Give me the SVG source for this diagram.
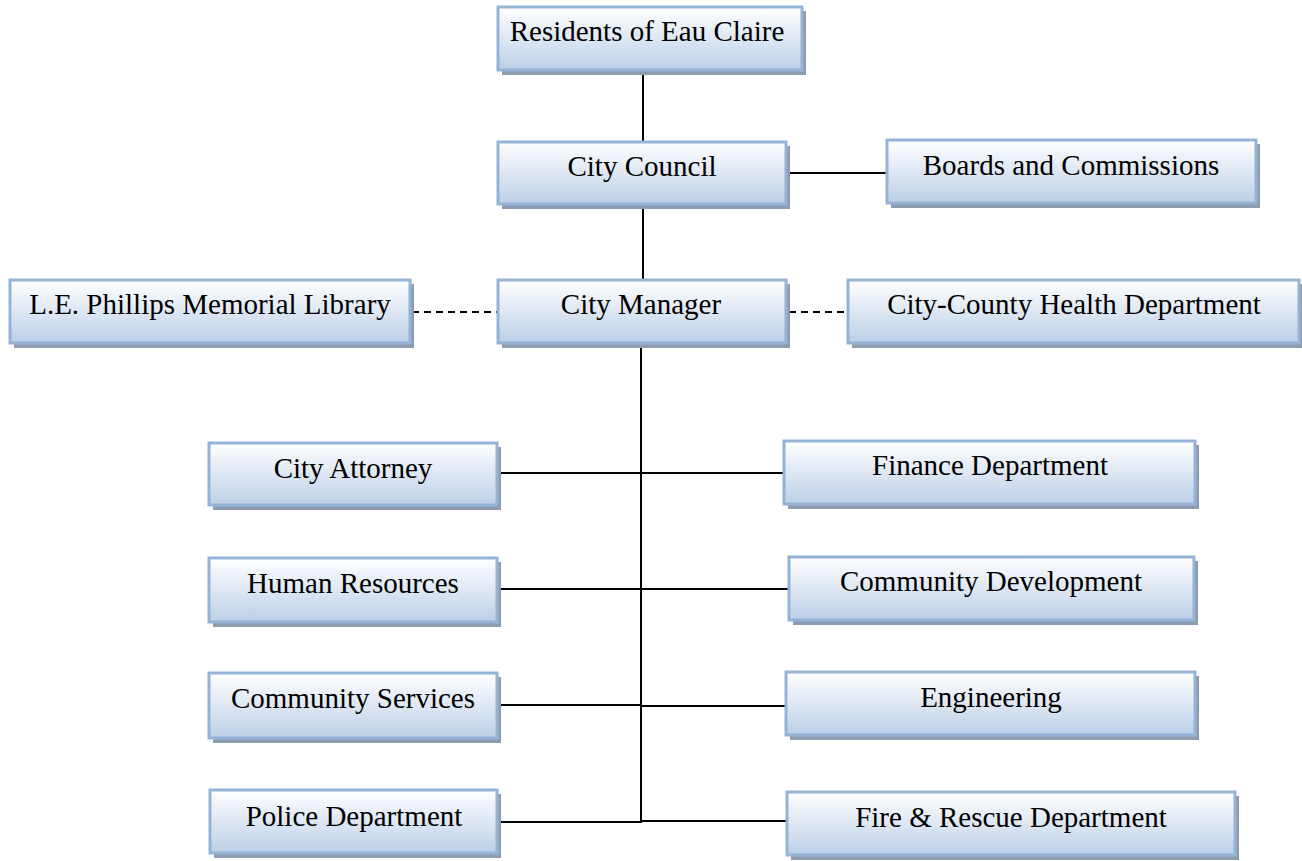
<svg xmlns="http://www.w3.org/2000/svg" width="1302" height="861" viewBox="0 0 1302 861">
<defs>
<linearGradient id="g" x1="0" y1="0" x2="0" y2="1">
<stop offset="0" stop-color="#ffffff"/>
<stop offset="1" stop-color="#bccfe7"/>
</linearGradient>
</defs>
<style>
.sh{fill:#8e9cb0}
.bx{fill:url(#g);stroke:#95b3d7;stroke-width:3}
.t{font-family:"Liberation Serif","Times New Roman",serif;font-size:29px;fill:#000;text-anchor:middle}
.ln{stroke:#000;stroke-width:2;fill:none}
.ds{stroke:#000;stroke-width:2;fill:none;stroke-dasharray:7 5}
</style>
<rect width="1302" height="861" fill="#fff"/>
<g id="connectors">
<line class="ln" x1="643" y1="70" x2="643" y2="142"/>
<line class="ln" x1="786" y1="173" x2="887" y2="173"/>
<line class="ln" x1="643" y1="204" x2="643" y2="280"/>
<line class="ds" x1="412" y1="312" x2="498" y2="312"/>
<line class="ds" x1="789" y1="312" x2="848" y2="312"/>
<line class="ln" x1="641" y1="343" x2="641" y2="823"/>
<line class="ln" x1="497" y1="473" x2="784" y2="473"/>
<line class="ln" x1="497" y1="589" x2="789" y2="589"/>
<line class="ln" x1="497" y1="705" x2="641" y2="705"/>
<line class="ln" x1="641" y1="706" x2="786" y2="706"/>
<line class="ln" x1="497" y1="822" x2="642" y2="822"/>
<line class="ln" x1="641" y1="821" x2="787" y2="821"/>
</g>
<g id="residents"><rect class="sh" x="502" y="11" width="304" height="64"/><rect class="bx" x="498" y="7" width="304" height="63"/><text class="t" x="647" y="41">Residents of Eau Claire</text></g>
<g id="council"><rect class="sh" x="502" y="146" width="288" height="63"/><rect class="bx" x="498" y="142" width="288" height="62"/><text class="t" x="642" y="176">City Council</text></g>
<g id="boards"><rect class="sh" x="891" y="144" width="369" height="64"/><rect class="bx" x="887" y="140" width="369" height="63"/><text class="t" x="1071" y="175">Boards and Commissions</text></g>
<g id="library"><rect class="sh" x="14" y="284" width="400" height="64"/><rect class="bx" x="10" y="280" width="400" height="63"/><text class="t" x="210" y="314">L.E. Phillips Memorial Library</text></g>
<g id="manager"><rect class="sh" x="502" y="284" width="288" height="64"/><rect class="bx" x="498" y="280" width="288" height="63"/><text class="t" x="641" y="314">City Manager</text></g>
<g id="health"><rect class="sh" x="852" y="284" width="450" height="64"/><rect class="bx" x="848" y="280" width="451" height="63"/><text class="t" x="1074" y="314">City-County Health Department</text></g>
<g id="attorney"><rect class="sh" x="213" y="447" width="288" height="63"/><rect class="bx" x="209" y="443" width="288" height="62"/><text class="t" x="353" y="478">City Attorney</text></g>
<g id="finance"><rect class="sh" x="788" y="445" width="411" height="64"/><rect class="bx" x="784" y="441" width="411" height="63"/><text class="t" x="990" y="475">Finance Department</text></g>
<g id="hr"><rect class="sh" x="213" y="562" width="288" height="65"/><rect class="bx" x="209" y="558" width="288" height="64"/><text class="t" x="353" y="593">Human Resources</text></g>
<g id="communitydev"><rect class="sh" x="793" y="561" width="405" height="64"/><rect class="bx" x="789" y="557" width="405" height="63"/><text class="t" x="991" y="591">Community Development</text></g>
<g id="communityservices"><rect class="sh" x="213" y="677" width="288" height="66"/><rect class="bx" x="209" y="673" width="288" height="65"/><text class="t" x="353" y="708">Community Services</text></g>
<g id="engineering"><rect class="sh" x="790" y="676" width="409" height="64"/><rect class="bx" x="786" y="672" width="409" height="63"/><text class="t" x="991" y="707">Engineering</text></g>
<g id="police"><rect class="sh" x="214" y="794" width="287" height="64"/><rect class="bx" x="210" y="790" width="287" height="63"/><text class="t" x="354" y="826">Police Department</text></g>
<g id="fire"><rect class="sh" x="791" y="796" width="448" height="64"/><rect class="bx" x="787" y="792" width="448" height="63"/><text class="t" x="1011" y="827">Fire &amp; Rescue Department</text></g>
</svg>
